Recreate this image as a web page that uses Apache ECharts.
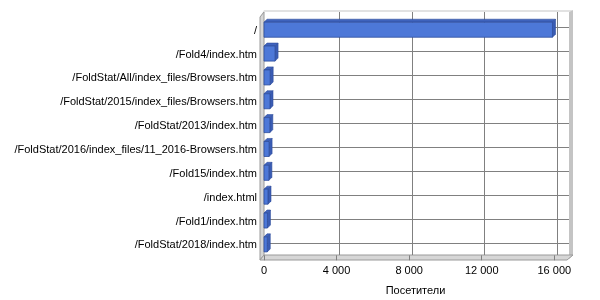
<!DOCTYPE html>
<html>
<head>
<meta charset="utf-8">
<script src="https://cdn.jsdelivr.net/npm/echarts@6/dist/echarts.min.js"></script>
<style>
  html, body { margin: 0; padding: 0; background: #ffffff; }
  #chart { width: 600px; height: 300px; }
</style>
</head>
<body>
<div id="chart"></div>
<script>
// Pages and their visitor counts
const categories = [
  '/',
  '/Fold4/index.htm',
  '/FoldStat/All/index_files/Browsers.htm',
  '/FoldStat/2015/index_files/Browsers.htm',
  '/FoldStat/2013/index.htm',
  '/FoldStat/2016/index_files/11_2016-Browsers.htm',
  '/Fold15/index.htm',
  '/index.html',
  '/Fold1/index.htm',
  '/FoldStat/2018/index.htm'
];
const visitors = [15900, 610, 340, 330, 320, 280, 270, 220, 190, 180];
const axisTitle = 'Посетители';
const xMax = 16700;
const xStep = 4000;

const FONT = 'Liberation Sans';
const DEPTH_X = 3, DEPTH_Y = 3;

function fmtThousands(v) {
  return String(v).replace(/\B(?=(\d{3})+(?!\d))/g, ' ');
}

// Extruded bar: front face plus top and right faces
function renderBar(params, api) {
  const val = api.value(0);
  const idx = api.value(1);
  const p0 = api.coord([0, idx]);
  const p1 = api.coord([val, idx]);
  const band = api.size([0, 1])[1];
  const h = band * 0.63;
  const x = p0[0];
  const y = p0[1] - h / 2 - 1;
  const w = p1[0] - p0[0];
  const stroke = '#2F4E9C';
  return {
    type: 'group',
    children: [
      {
        type: 'polygon',
        shape: { points: [[x, y], [x + DEPTH_X, y - DEPTH_Y], [x + w + DEPTH_X, y - DEPTH_Y], [x + w, y]] },
        style: { fill: '#3F63BD', stroke: stroke, lineWidth: 0.6 }
      },
      {
        type: 'polygon',
        shape: { points: [[x + w, y], [x + w + DEPTH_X, y - DEPTH_Y], [x + w + DEPTH_X, y + h - DEPTH_Y], [x + w, y + h]] },
        style: { fill: '#3A5CB4', stroke: stroke, lineWidth: 0.6 }
      },
      {
        type: 'rect',
        shape: { x: x, y: y, width: w, height: h },
        style: { fill: '#4D78D8', stroke: stroke, lineWidth: 0.8 }
      }
    ]
  };
}

const chart = echarts.init(document.getElementById('chart'), null, { renderer: 'canvas' });

const wallFill = '#D6D6D6';
const wallLine = '#9A9A9A';

chart.setOption({
  animation: false,
  backgroundColor: '#ffffff',
  textStyle: { fontFamily: FONT },
  graphic: [
    // back wall
    { type: 'rect', z: -20, shape: { x: 264, y: 12, width: 305, height: 243 },
      style: { fill: '#ffffff', stroke: 'none' } },
    // top edge of the wall
    { type: 'polygon', z: -19, shape: { points: [[260, 17], [264, 10], [573, 10], [569, 12], [264, 12], [264, 13]] },
      style: { fill: '#E2E2E2', stroke: 'none' } },
    // right edge
    { type: 'polygon', z: -19, shape: { points: [[569, 12], [573, 10], [573, 255], [569, 259]] },
      style: { fill: '#C4C4C4', stroke: 'none' } },
    // left wall
    { type: 'polygon', z: -18, shape: { points: [[260, 17], [264, 12], [264, 255], [260, 260]] },
      style: { fill: wallFill, stroke: wallLine, lineWidth: 1 } },
    // floor
    { type: 'polygon', z: -18, shape: { points: [[260, 260], [264, 255], [573, 255], [567, 260]] },
      style: { fill: wallFill, stroke: wallLine, lineWidth: 1 } }
  ],
  grid: [
    // front plane: bars and labels
    { left: 264, top: 18.8, width: 303, height: 238.5, outerBoundsMode: 'none', containLabel: false },
    // back plane: vertical grid lines
    { left: 267, top: 12, width: 303, height: 243, outerBoundsMode: 'none', containLabel: false },
    // back plane: horizontal grid lines through the category centres
    { left: 264, top: 27, width: 305, height: 216, outerBoundsMode: 'none', containLabel: false }
  ],
  xAxis: [
    {
      gridIndex: 0, type: 'value', min: 0, max: xMax, interval: xStep,
      offset: 3,
      name: axisTitle, nameLocation: 'middle', nameGap: 25,
      nameTextStyle: { color: '#000000', fontSize: 11, fontFamily: FONT },
      axisLine: { show: false },
      axisTick: { show: true, inside: true, length: 5, lineStyle: { color: '#808080' } },
      axisLabel: {
        color: '#000000', fontSize: 11, fontFamily: FONT, margin: 5,
        showMaxLabel: false, formatter: fmtThousands
      },
      splitLine: { show: false }
    },
    {
      gridIndex: 1, type: 'value', min: 0, max: xMax, interval: xStep,
      axisLine: { show: false }, axisTick: { show: false }, axisLabel: { show: false },
      splitLine: { show: true, showMinLine: false, showMaxLine: false, lineStyle: { color: '#808080', width: 1 } }
    },
    {
      gridIndex: 2, type: 'value', min: 0, max: 1, show: false
    }
  ],
  yAxis: [
    {
      gridIndex: 0, type: 'category', data: categories, inverse: true,
      offset: 4,
      axisLine: { show: false },
      axisTick: { show: true, inside: true, length: 4, alignWithLabel: true, lineStyle: { color: '#808080' } },
      axisLabel: { color: '#000000', fontSize: 11, fontFamily: FONT, margin: 3 },
      splitLine: { show: false }
    },
    {
      gridIndex: 1, type: 'value', min: 0, max: 1, show: false
    },
    {
      gridIndex: 2, type: 'value', min: 0, max: 9, interval: 1,
      axisLine: { show: false }, axisTick: { show: false }, axisLabel: { show: false },
      splitLine: { show: true, lineStyle: { color: '#808080', width: 1 } }
    }
  ],
  series: [
    {
      type: 'custom',
      xAxisIndex: 0, yAxisIndex: 0,
      renderItem: renderBar,
      encode: { x: 0, y: 1 },
      data: visitors.map((v, i) => [v, i]),
      z: 5
    }
  ]
});
</script>
</body>
</html>
